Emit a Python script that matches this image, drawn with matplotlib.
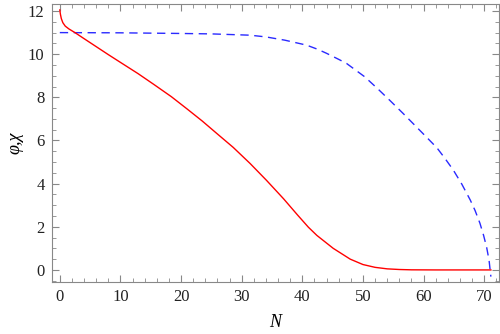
import matplotlib.pyplot as plt
from matplotlib.ticker import MultipleLocator

# phi (red, solid)
n_phi = [0, 0.1, 0.25, 0.5, 0.9, 1.5, 2.5, 4, 6, 8, 10, 12.9, 15.5, 18.4, 21, 23.5, 26,
         28.6, 31.4, 34.1, 36.9, 39.2, 41, 42.4, 45.1, 47.9, 50, 52, 54, 56, 58, 62, 71.1]
phi = [12.05, 11.85, 11.65, 11.46, 11.3, 11.17, 11.0, 10.72, 10.35, 9.98, 9.62, 9.1, 8.6,
       8.03, 7.46, 6.9, 6.3, 5.68, 4.93, 4.15, 3.3, 2.55, 1.98, 1.6, 1.0, 0.5, 0.25, 0.12,
       0.05, 0.02, 0.005, 0.0, 0.0]

# chi (blue, dashed)
n_chi = [0, 10, 20, 25, 31.4, 34, 37.1, 40.7, 42.5, 44, 46, 47.3, 50.3, 52.5, 54.5, 56.6,
         58.5, 60.5, 62.2, 63.5, 64.9, 66.3, 67.7, 68.5, 69.3, 69.9, 70.4, 70.8, 71.1]
chi = [11.0, 10.99, 10.96, 10.94, 10.88, 10.8, 10.65, 10.42, 10.23, 10.04, 9.76, 9.57, 8.95,
       8.38, 7.84, 7.26, 6.72, 6.15, 5.66, 5.18, 4.63, 3.98, 3.24, 2.75, 2.16, 1.6, 1.05,
       0.45, -0.31]

plt.rcParams['font.family'] = ['Liberation Serif', 'DejaVu Serif']

fig = plt.figure(figsize=(5, 3.34), dpi=100)
ax = fig.add_axes([0.103, 0.155, 0.895, 0.832])

ax.plot(n_chi, chi, color='#2a2aff', lw=1.0, dashes=(6, 4))
ax.plot(n_phi, phi, color='#ff0000', lw=1.0)

ax.set_xlim(-1.37, 72.44)
ax.set_ylim(-0.57, 12.31)

ax.xaxis.set_major_locator(MultipleLocator(10))
ax.xaxis.set_minor_locator(MultipleLocator(2))
ax.yaxis.set_major_locator(MultipleLocator(2))
ax.yaxis.set_minor_locator(MultipleLocator(0.5))

for s in ax.spines.values():
    s.set_color('#888888')
    s.set_linewidth(0.8)

ax.tick_params(which='both', direction='in', top=True, right=True, color='#888888',
               labelsize=12, labelcolor='#222222')
ax.tick_params(which='major', length=5, width=0.8, pad=5)
ax.tick_params(which='minor', length=3, width=0.6)

ax.set_xlabel('N', fontsize=13, style='italic', labelpad=6)
ax.set_ylabel('φ,χ', fontsize=13, style='italic', labelpad=3)

fig.savefig('out.png', dpi=100)
